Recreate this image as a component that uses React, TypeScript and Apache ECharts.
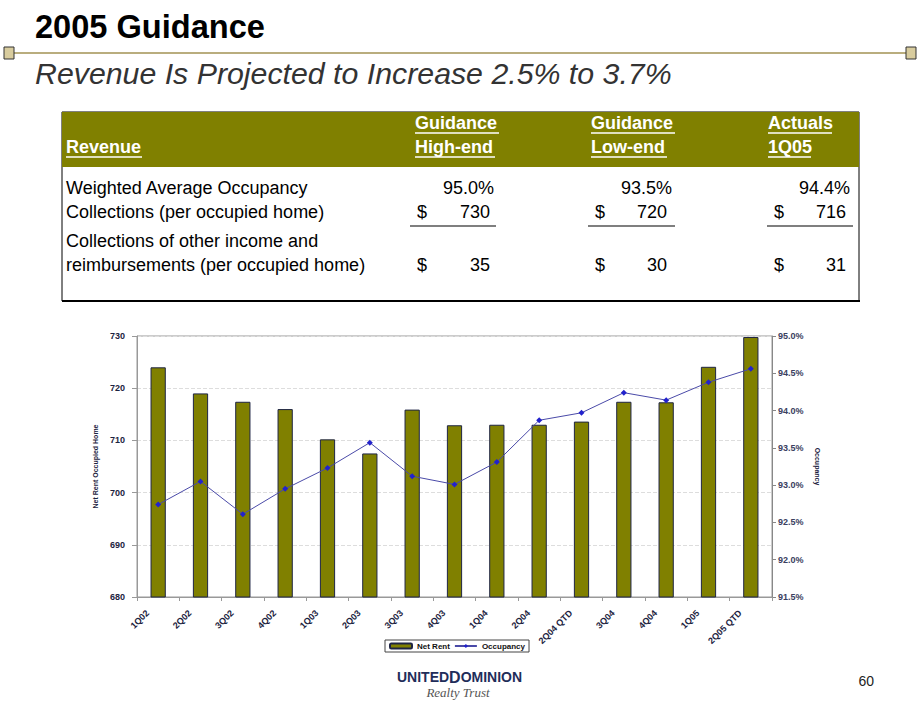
import React, { useEffect, useRef } from "react";
import * as echarts from "echarts";

const categories = ["1Q02", "2Q02", "3Q02", "4Q02", "1Q03", "2Q03", "3Q03", "4Q03", "1Q04", "2Q04", "2Q04 QTD", "3Q04", "4Q04", "1Q05", "2Q05 QTD"];
const netRent = [724.0, 719.0, 717.4, 716.0, 710.2, 707.5, 715.9, 712.9, 713.0, 713.0, 713.6, 717.4, 717.3, 724.1, 729.8];
const occupancy = [92.74, 93.05, 92.61, 92.95, 93.23, 93.57, 93.12, 93.01, 93.31, 93.87, 93.97, 94.24, 94.14, 94.38, 94.56];

const tableHeaderTop = ["Guidance", "Guidance", "Actuals"];
const tableHeaderBottom = ["High-end", "Low-end", "1Q05"];
const rowLabels = ["Weighted Average Occupancy", "Collections (per occupied home)", "Collections of other income and", "reimbursements (per occupied home)"];
const occupancyRow = ["95.0%", "93.5%", "94.4%"];
const collectionsRow = ["730", "720", "716"];
const otherIncomeRow = ["35", "30", "31"];

const FONT = "'Liberation Sans', Arial, sans-serif";
const NAVY = "#1c2340";

export default function App() {
  const ref = useRef<HTMLDivElement>(null);
  useEffect(() => {
    if (!ref.current) return;
    const chart = echarts.init(ref.current, null, { renderer: "svg" });

    const headerLeft = [415, 591, 768];
    const pctRight = [494, 672, 850];
    const dollarLeft = [417, 595, 774];
    const numRight = [490, 667, 846];
    const ulines = [[410, 496], [588, 675], [767, 853]];
    const rowY = [188, 212, 241, 265];

    const g: any[] = [];
    // Title
    g.push({ type: "text", x: 35, y: 26, style: { text: "2005 Guidance", font: `bold 32.6px ${FONT}`, fill: "#000", verticalAlign: "middle" } });
    g.push({ type: "line", shape: { x1: 10, y1: 53, x2: 912, y2: 53 }, style: { stroke: "#b9ad7e", lineWidth: 2 } });
    g.push({ type: "rect", shape: { x: 4, y: 47, width: 10, height: 12 }, style: { fill: "#d8cc9e", stroke: "#333", lineWidth: 1 } });
    g.push({ type: "rect", shape: { x: 906, y: 47, width: 10, height: 12 }, style: { fill: "#d8cc9e", stroke: "#333", lineWidth: 1 } });
    g.push({ type: "text", x: 35, y: 73, style: { text: "Revenue Is Projected to Increase 2.5% to 3.7%", font: `italic 30.3px ${FONT}`, fill: "#333", verticalAlign: "middle" } });

    // Table
    g.push({ type: "rect", shape: { x: 62, y: 112, width: 797, height: 189 }, style: { fill: "#fff", stroke: "#000", lineWidth: 1 } });
    g.push({ type: "rect", shape: { x: 62, y: 112, width: 797, height: 55 }, style: { fill: "#808000" } });
    g.push({ type: "line", shape: { x1: 62, y1: 301, x2: 860, y2: 301 }, style: { stroke: "#000", lineWidth: 2 } });
    const hdr = (text: string, x: number, y: number) => {
      g.push({ type: "text", x, y, style: { text, font: `bold 18px ${FONT}`, fill: "#fff", verticalAlign: "middle" } });
    };
    hdr("Revenue", 66, 147);
    g.push({ type: "line", shape: { x1: 66, y1: 157, x2: 142, y2: 157 }, style: { stroke: "#fff", lineWidth: 1.5 } });
    const widthsTop = [84, 84, 64];
    const widthsBottom = [80, 76, 43];
    for (let i = 0; i < 3; i++) {
      hdr(tableHeaderTop[i], headerLeft[i], 123);
      g.push({ type: "line", shape: { x1: headerLeft[i], y1: 133, x2: headerLeft[i] + widthsTop[i], y2: 133 }, style: { stroke: "#fff", lineWidth: 1.5 } });
      hdr(tableHeaderBottom[i], headerLeft[i], 147);
      g.push({ type: "line", shape: { x1: headerLeft[i], y1: 157, x2: headerLeft[i] + widthsBottom[i], y2: 157 }, style: { stroke: "#fff", lineWidth: 1.5 } });
    }
    const cell = (text: string, x: number, y: number, align: string) => {
      g.push({ type: "text", x, y, style: { text, font: `18px ${FONT}`, fill: "#000", verticalAlign: "middle", align } });
    };
    rowLabels.forEach((t, i) => cell(t, 66, rowY[i], "left"));
    for (let i = 0; i < 3; i++) {
      cell(occupancyRow[i], pctRight[i], rowY[0], "right");
      cell("$", dollarLeft[i], rowY[1], "left");
      cell(collectionsRow[i], numRight[i], rowY[1], "right");
      g.push({ type: "line", shape: { x1: ulines[i][0], y1: 226, x2: ulines[i][1], y2: 226 }, style: { stroke: "#000", lineWidth: 1.2 } });
      cell("$", dollarLeft[i], rowY[3], "left");
      cell(otherIncomeRow[i], numRight[i], rowY[3], "right");
    }

    // Footer
    g.push({
      type: "text", x: 397, y: 677,
      style: {
        text: "{a|UNITED}{b|D}{a|OMINION}",
        verticalAlign: "middle",
        rich: {
          a: { font: `bold 14px ${FONT}`, fill: "#1f2d5a" },
          b: { font: `bold 16px ${FONT}`, fill: "#1f2d5a" },
        },
      },
    });
    g.push({ type: "text", x: 458, y: 692, style: { text: "Realty Trust", font: "italic 13px 'Liberation Serif', serif", fill: "#555", align: "center", verticalAlign: "middle" } });
    g.push({ type: "text", x: 874, y: 681, style: { text: "60", font: `14px ${FONT}`, fill: "#222", align: "right", verticalAlign: "middle" } });

    const axisLabelStyle = { fontSize: 9, fontWeight: "bold", color: NAVY, fontFamily: FONT };

    chart.setOption({
      animation: false,
      backgroundColor: "#fff",
      graphic: g,
      grid: { left: 137, right: 150, top: 336, bottom: 105, show: true, borderColor: "#999", borderWidth: 1 },
      legend: {
        left: 385,
        top: 640,
        padding: [2, 4],
        itemWidth: 22,
        itemHeight: 5,
        itemGap: 4,
        borderColor: "#444",
        borderWidth: 1,
        backgroundColor: "#fff",
        textStyle: { fontSize: 8, fontWeight: "bold", color: "#111", fontFamily: FONT },
        data: ["Net Rent", "Occupancy"],
      },
      xAxis: {
        type: "category",
        data: categories,
        boundaryGap: true,
        axisLine: { lineStyle: { color: "#999" } },
        axisTick: { show: true, length: 4, lineStyle: { color: "#999" } },
        axisLabel: {
          interval: 0,
          rotate: 45,
          margin: 4,
          padding: [0, 15, 20, 0],
          fontSize: 9,
          fontWeight: "bold",
          color: NAVY,
          fontFamily: FONT,
        },
      },
      yAxis: [
        {
          type: "value",
          min: 680,
          max: 730,
          interval: 10,
          name: "Net Rent Occupied Home",
          nameLocation: "middle",
          nameGap: 36,
          nameRotate: 90,
          nameTextStyle: { fontSize: 7, fontWeight: "bold", color: NAVY, fontFamily: FONT },
          axisLine: { show: true, lineStyle: { color: "#999" } },
          axisTick: { show: true, length: 5, lineStyle: { color: "#999" } },
          axisLabel: { ...axisLabelStyle, margin: 12 },
          splitLine: { show: true, lineStyle: { color: "#ddd", type: "dashed" } },
        },
        {
          type: "value",
          min: 91.5,
          max: 95.0,
          interval: 0.5,
          position: "right",
          name: "Occupancy",
          nameLocation: "middle",
          nameGap: 42,
          nameRotate: -90,
          nameTextStyle: { fontSize: 7, fontWeight: "bold", color: NAVY, fontFamily: FONT },
          axisLine: { show: true, lineStyle: { color: "#888" } },
          axisTick: { show: true, length: 4, lineStyle: { color: "#888" } },
          axisLabel: { ...axisLabelStyle, color: "#3a4060", margin: 6, formatter: (v: number) => v.toFixed(1) + "%" },
          splitLine: { show: false },
        },
      ],
      series: [
        {
          name: "Net Rent",
          type: "bar",
          data: netRent,
          barWidth: "36%",
          itemStyle: { color: "#808000", borderColor: "#1e2444", borderWidth: 1 },
        },
        {
          name: "Occupancy",
          type: "line",
          yAxisIndex: 1,
          data: occupancy,
          symbol: "diamond",
          symbolSize: 6,
          lineStyle: { color: "#4a4aa8", width: 1 },
          itemStyle: { color: "#2222cc" },
        },
      ],
    });
    return () => chart.dispose();
  }, []);
  return <div ref={ref} style={{ position: "absolute", left: 0, top: 0, width: 922, height: 702 }} />;
}
